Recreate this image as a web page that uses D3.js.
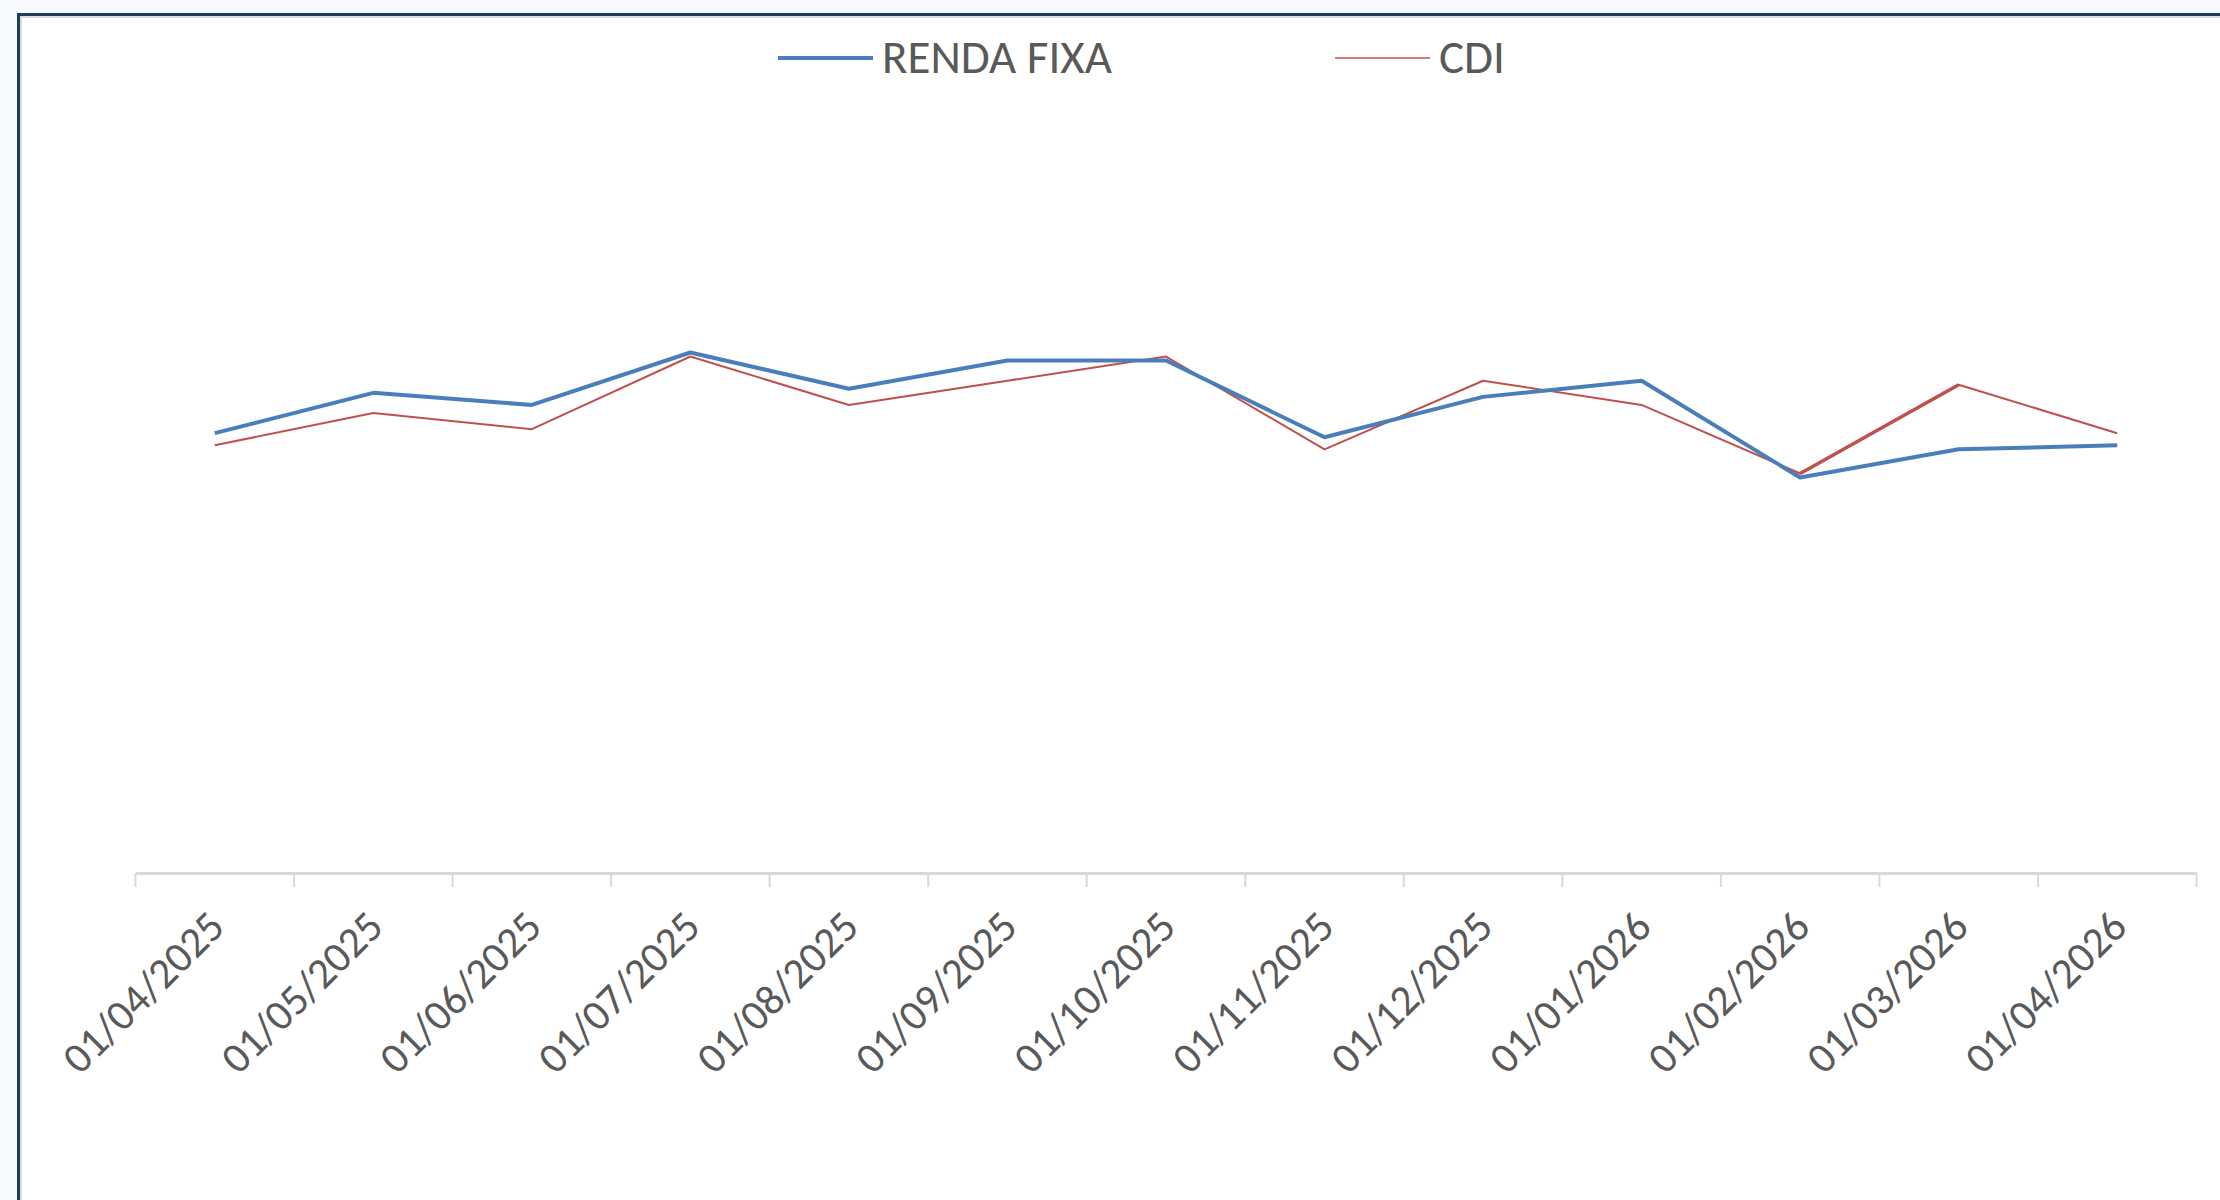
<!DOCTYPE html>
<html>
<head>
<meta charset="utf-8">
<script src="https://cdn.jsdelivr.net/npm/d3@7"></script>
<style>
  html, body { margin: 0; padding: 0; background: #f6fafd; }
  svg { display: block; }
  text { font-family: Carlito, Calibri, "Open Sans", sans-serif; fill: #595959; }
</style>
</head>
<body>
<svg width="2220" height="1200"></svg>
<script>
// months on the x axis
const months = ["01/04/2025", "01/05/2025", "01/06/2025", "01/07/2025", "01/08/2025",
  "01/09/2025", "01/10/2025", "01/11/2025", "01/12/2025", "01/01/2026",
  "01/02/2026", "01/03/2026", "01/04/2026"];

// monthly returns (%)
const rendaFixa = [1.09, 1.19, 1.16, 1.29, 1.20, 1.27, 1.27, 1.08, 1.18, 1.22, 0.98, 1.05, 1.06];
const cdi = [1.06, 1.14, 1.10, 1.28, 1.16, 1.22, 1.28, 1.05, 1.22, 1.16, 0.99, 1.21, 1.09];

const seriesNames = ["RENDA FIXA", "CDI"];
const colors = ["#4a7ebb", "#c0504d"];

let svg = d3.select("svg");

// chart frame: dark border on top/left with a thin grey inner edge
svg.append("rect").attr("x", 17).attr("y", 13).attr("width", 2300).attr("height", 1300)
  .attr("fill", "#ffffff");
svg.append("path").attr("d", "M18.5,1200 V14.5 H2220")
  .attr("fill", "none").attr("stroke", "#1f3a5f").attr("stroke-width", 3);
svg.append("path").attr("d", "M21,1200 V17 H2220")
  .attr("fill", "none").attr("stroke", "#dcdcdc").attr("stroke-width", 2);

let x = d3.scaleBand().domain(months).range([135.5, 2196.5]).padding(0),
    y = d3.scaleLinear().domain([0, 2]).range([873, 66]);

let g = svg.append("g");

// category axis: labels at band centres, ticks on band edges
let axis = g.append("g")
  .attr("class", "axis axis--x")
  .attr("transform", "translate(0,873)")
  .call(d3.axisBottom(x).tickSize(0).tickSizeOuter(0));

axis.select(".domain").attr("stroke", "#d9d9d9").attr("stroke-width", 3);
axis.selectAll(".tick text")
  .attr("text-anchor", "end")
  .attr("font-size", 43)
  .attr("font-family", "Carlito, Calibri, 'Open Sans', sans-serif")
  .attr("fill", "#595959")
  .attr("dy", 0)
  .attr("transform", "translate(12,56) rotate(-45)")
  .attr("y", 0).attr("x", 0);

let edges = months.map(d => x(d)).concat([x.range()[1]]);
g.selectAll(".edge")
  .data(edges)
  .enter().append("line")
    .attr("class", "edge")
    .attr("x1", d => d).attr("x2", d => d)
    .attr("y1", 873).attr("y2", 887)
    .attr("stroke", "#d9d9d9").attr("stroke-width", 2);

let line = d3.line()
  .x((d, i) => x(months[i]) + x.bandwidth() / 2)
  .y(d => y(d));

g.append("path").datum(cdi)
  .attr("fill", "none").attr("stroke", colors[1]).attr("stroke-width", 2)
  .attr("stroke-linejoin", "round").attr("d", line);

g.append("path").datum(rendaFixa)
  .attr("fill", "none").attr("stroke", colors[0]).attr("stroke-width", 4)
  .attr("stroke-linejoin", "round").attr("d", line);

// the CDI Feb -> Mar 2026 stretch shows heavier in the original
let seg = d3.line()
  .x((d, i) => x(months[10 + i]) + x.bandwidth() / 2)
  .y(d => y(d));
g.append("path").datum(cdi.slice(10, 12))
  .attr("fill", "none").attr("stroke", colors[1]).attr("stroke-width", 3.5)
  .attr("d", seg);

// legend
let legendX = [778, 1335];
let leg = svg.append("g").selectAll("g")
  .data(seriesNames)
  .enter().append("g")
    .attr("transform", (d, i) => "translate(" + legendX[i] + ",58)");
leg.append("line")
  .attr("x1", 0).attr("x2", 95)
  .attr("stroke", (d, i) => i === 0 ? colors[0] : "#d47c78")
  .attr("stroke-width", (d, i) => i === 0 ? 4 : 2);
leg.append("text")
  .attr("x", 104).attr("y", 15)
  .attr("font-size", 47)
  .text(d => d);
</script>
</body>
</html>
